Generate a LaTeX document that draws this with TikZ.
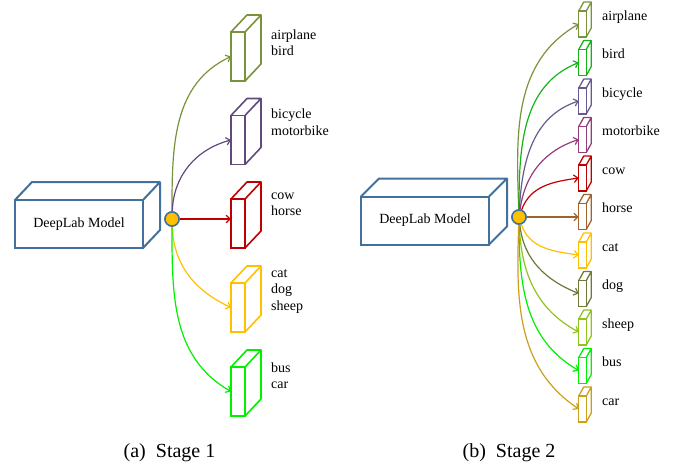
\documentclass[tikz,border=0pt]{standalone}
\usepackage{fontspec}
\setmainfont{Liberation Serif}
\usetikzlibrary{arrows.meta,calc}

\definecolor{boxblue}{HTML}{41719C}
\definecolor{hubgold}{HTML}{FFC000}
\definecolor{olivegreen}{HTML}{77933C}
\definecolor{plum}{HTML}{604A7B}
\definecolor{darkred}{HTML}{C00000}
\definecolor{amber}{HTML}{FFC000}
\definecolor{lime}{HTML}{00F000}
\definecolor{birdgreen}{HTML}{14B414}
\definecolor{lavender}{HTML}{665A8E}
\definecolor{mauve}{HTML}{963C7A}
\definecolor{rust}{HTML}{A0632D}
\definecolor{mossgreen}{HTML}{6E7A3A}
\definecolor{yellowgreen}{HTML}{90C31E}
\definecolor{ochre}{HTML}{CC9F1A}

% back faces of a cuboid whose front face is the node #1, depth (#2,#3)
\newcommand\cubefaces[4]{%
  \draw[#4, line join=round] (#1.north west) -- ++(#2,#3)
    -| ($(#1.south east)+(#2,#3)$) -- (#1.south east)
    (#1.north east) -- ++(#2,#3);}

\tikzset{
  bigbox/.style={draw=boxblue, line width=2pt, fill=white, minimum width=128pt,
    minimum height=48pt, inner sep=0pt, outer sep=0pt,
    font=\fontsize{14}{17}\selectfont},
  bigfaces/.style={draw=boxblue, line width=2pt},
  catbox/.style={draw=#1, line width=1.6pt, inner sep=0pt, outer sep=0pt,
    minimum width=14pt, minimum height=49pt},
  catfaces/.style={draw=#1, line width=1.6pt},
  minibox/.style={draw=#1, line width=1.3pt, inner sep=0pt, outer sep=0pt,
    minimum width=7.5pt, minimum height=26pt},
  minifaces/.style={draw=#1, line width=1.3pt},
  hub/.style={circle, draw=boxblue, line width=1.5pt, fill=hubgold,
    minimum size=14pt, inner sep=0pt},
  link/.style={draw=#1, line width=1.2pt,
    -{Straight Barb[length=4pt,width=7.5pt]}},
  grouplabel/.style={font=\fontsize{14}{16.5}\selectfont, align=left,
    inner sep=0pt, anchor=north west},
  classlabel/.style={font=\fontsize{14}{16.5}\selectfont, inner sep=0pt,
    anchor=base west},
  caption/.style={font=\fontsize{20}{24}\selectfont, inner sep=0pt, anchor=base},
}

\begin{document}
\begin{tikzpicture}[x=1pt, y=-1pt]
\useasboundingbox (0,0) rectangle (681,466);

% ---------------- Stage 1 ----------------
\node[bigbox] (m1) at (79,224) {DeepLab Model};
\cubefaces{m1}{17}{-18}{bigfaces}

\node[catbox=olivegreen] (g1) at (238,56.5) {};
\node[catbox=plum]       (g2) at (238,140) {};
\node[catbox=darkred]    (g3) at (238,223.5) {};
\node[catbox=amber]      (g4) at (238,307.5) {};
\node[catbox=lime]       (g5) at (238,391.5) {};
\cubefaces{g1}{16}{-17}{catfaces=olivegreen}
\cubefaces{g2}{16}{-17}{catfaces=plum}
\cubefaces{g3}{16}{-17}{catfaces=darkred}
\cubefaces{g4}{16}{-17}{catfaces=amber}
\cubefaces{g5}{16}{-17}{catfaces=lime}

\node[grouplabel] (t1) at (271,39-11.55) {\strut airplane\\bird};
\node[grouplabel] (t2) at (271,118.5-11.55) {\strut bicycle\\motorbike};
\node[grouplabel] (t3) at (271,199-11.55) {\strut cow\\horse};
\node[grouplabel] (t4) at (271,277-11.55) {\strut cat\\dog\\sheep};
\node[grouplabel] (t5) at (271,372-11.55) {\strut bus\\car};

\node[hub] (h1) at (172,219) {};
\draw[link=olivegreen] (h1) to[out=90, in=205] (g1.west);
\draw[link=plum]       (h1) to[out=88, in=195] (g2.west);
\draw[link=darkred]    (h1) -- (h1 -| g3.west);
\draw[link=amber]      (h1) to[out=-88, in=155] (g4.west);
\draw[link=lime]       (h1) to[out=-90, in=150] (g5.west);
\node[hub] at (h1) {};

% ---------------- Stage 2 ----------------
\node[bigbox] (m2) at (425,220.5) {DeepLab Model};
\cubefaces{m2}{18}{-18}{bigfaces}

\foreach \i/\nm/\col in {0/airplane/olivegreen, 1/bird/birdgreen,
    2/bicycle/lavender, 3/motorbike/mauve, 4/cow/darkred, 5/horse/rust,
    6/cat/amber, 7/dog/mossgreen, 8/sheep/yellowgreen, 9/bus/lime,
    10/car/ochre}{
  \node[minibox=\col] (c\i) at (582.5,24+38.5*\i) {};
  \cubefaces{c\i}{5}{-9}{minifaces=\col}
  \node[classlabel] (n\i) at (602,20+38.5*\i) {\nm};
}

\node[hub] (h2) at (519,217) {};
\draw[link=olivegreen]  (h2) to[out=92, in=210] (c0.west);
\draw[link=birdgreen]   (h2) to[out=90, in=202] (c1.west);
\draw[link=lavender]    (h2) to[out=87, in=198] (c2.west);
\draw[link=mauve]       (h2) to[out=82, in=198] (c3.west);
\draw[link=darkred]     (h2) to[out=70, in=188] (c4.west);
\draw[link=rust]        (h2) -- (h2 -| c5.west);
\draw[link=amber]       (h2) to[out=-72, in=172] (c6.west);
\draw[link=mossgreen]   (h2) to[out=-84, in=158] (c7.west);
\draw[link=yellowgreen] (h2) to[out=-88, in=152] (c8.west);
\draw[link=lime]        (h2) to[out=-90, in=150] (c9.west);
\draw[link=ochre]       (h2) to[out=-92, in=146] (c10.west);
\node[hub] at (h2) {};

% ---------------- captions ----------------
\node[caption] (capa) at (169.5,457) {(a)\hspace{0.5em}Stage 1};
\node[caption] (capb) at (509,457) {(b)\hspace{0.5em}Stage 2};
\end{tikzpicture}
\end{document}
